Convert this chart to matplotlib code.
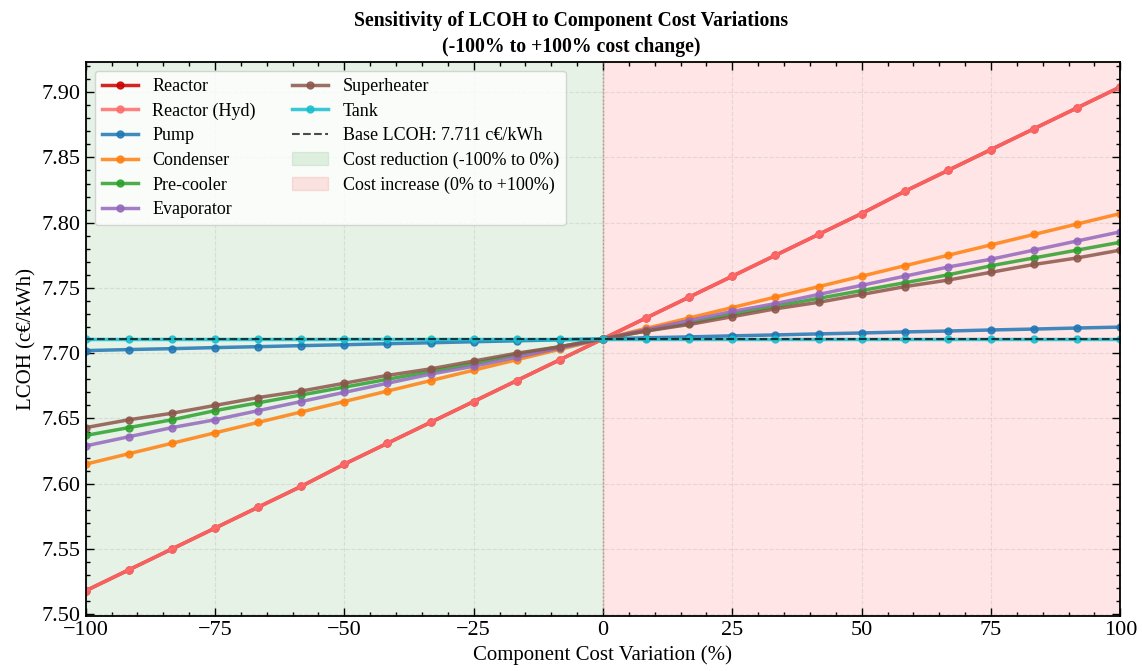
#Sensitivity of LCOH to component cost variations
import matplotlib
matplotlib.use("Agg")
import matplotlib.pyplot as plt
from matplotlib.ticker import AutoMinorLocator

plt.rcParams['font.family'] = ['Liberation Serif', 'DejaVu Serif']
plt.rcParams['mathtext.fontset'] = 'stix'

#Cost variation (%) and LCOH values (c€/kWh)
variation = [-100, -91.67, -83.33, -75, -66.67, -58.33, -50, -41.67, -33.33, -25, -16.67, -8.33,
             0, 8.33, 16.67, 25, 33.33, 41.67, 50, 58.33, 66.67, 75, 83.33, 91.67, 100]

reactor = [7.518, 7.534, 7.550, 7.566, 7.582, 7.598, 7.615, 7.631, 7.647, 7.663, 7.679, 7.695,
           7.711, 7.727, 7.743, 7.759, 7.775, 7.791, 7.807, 7.824, 7.840, 7.856, 7.872, 7.888, 7.904]
reactor_hyd = [7.518, 7.534, 7.550, 7.566, 7.582, 7.598, 7.615, 7.631, 7.647, 7.663, 7.679, 7.695,
               7.711, 7.727, 7.743, 7.759, 7.775, 7.791, 7.807, 7.824, 7.840, 7.856, 7.872, 7.888, 7.904]
pump = [7.702, 7.7028, 7.7035, 7.7043, 7.705, 7.7058, 7.7065, 7.7073, 7.708, 7.7088, 7.7095, 7.7103,
        7.711, 7.7118, 7.7125, 7.7133, 7.714, 7.7148, 7.7155, 7.7163, 7.717, 7.7178, 7.7185, 7.7193, 7.720]
condenser = [7.615, 7.623, 7.631, 7.639, 7.647, 7.655, 7.663, 7.671, 7.679, 7.687, 7.695, 7.703,
             7.711, 7.719, 7.727, 7.735, 7.743, 7.751, 7.759, 7.767, 7.775, 7.783, 7.791, 7.799, 7.807]
precooler = [7.637, 7.643, 7.649, 7.656, 7.662, 7.668, 7.674, 7.680, 7.686, 7.692, 7.699, 7.705,
             7.711, 7.717, 7.723, 7.730, 7.736, 7.742, 7.748, 7.754, 7.760, 7.767, 7.773, 7.779, 7.785]
evaporator = [7.629, 7.636, 7.643, 7.649, 7.656, 7.663, 7.670, 7.677, 7.684, 7.690, 7.697, 7.704,
              7.711, 7.718, 7.725, 7.732, 7.738, 7.745, 7.752, 7.759, 7.766, 7.772, 7.779, 7.786, 7.793]
superheater = [7.643, 7.649, 7.654, 7.660, 7.666, 7.671, 7.677, 7.683, 7.688, 7.694, 7.700, 7.705,
               7.711, 7.717, 7.722, 7.728, 7.734, 7.739, 7.745, 7.751, 7.756, 7.762, 7.768, 7.773, 7.779]
tank = [7.711] * 25

base_lcoh = 7.711

series = [("Reactor", reactor, "#cc0000"),
          ("Reactor (Hyd)", reactor_hyd, "#ff6b6b"),
          ("Pump", pump, "#1f77b4"),
          ("Condenser", condenser, "#ff7f0e"),
          ("Pre-cooler", precooler, "#2ca02c"),
          ("Evaporator", evaporator, "#9467bd"),
          ("Superheater", superheater, "#8c564b"),
          ("Tank", tank, "#17becf")]

fig, ax = plt.subplots(figsize=(11.42, 6.71), dpi=100)
fig.subplots_adjust(left=0.075, right=0.981, top=0.908, bottom=0.082)

for name, vals, col in series:
    ax.plot(variation, vals, marker='o', markersize=5, linewidth=2.5,
            color=col, alpha=0.85, label=name)

ax.axhline(base_lcoh, color='black', linestyle='--', linewidth=1.5, alpha=0.7,
           label="Base LCOH: {0:.3f} c€/kWh".format(base_lcoh))
ax.axvline(0, color='gray', linestyle=':', linewidth=1, alpha=0.6)
ax.axvspan(-100, 0, color='green', alpha=0.1, label="Cost reduction (-100% to 0%)")
ax.axvspan(0, 100, color='red', alpha=0.1, label="Cost increase (0% to +100%)")

ax.set_xlim(-100, 100)
ax.set_xlabel("Component Cost Variation (%)", fontsize=15)
ax.set_ylabel("LCOH (c€/kWh)", fontsize=15)
fig.suptitle("Sensitivity of LCOH to Component Cost Variations\n(-100% to +100% cost change)",
             x=0.5, y=0.984, fontsize=14.2, fontweight='bold', linespacing=1.45)

ax.grid(True, linestyle='--', alpha=0.3)
ax.xaxis.set_minor_locator(AutoMinorLocator())
ax.yaxis.set_minor_locator(AutoMinorLocator())
ax.tick_params(which='both', direction='in', top=True, right=True, labelsize=16)
ax.tick_params(which='major', length=6, width=1)
ax.tick_params(which='minor', length=3, width=1)
for sp in ax.spines.values():
    sp.set_linewidth(1.3)

ax.legend(loc='upper left', ncol=2, fontsize=13, framealpha=0.8, labelspacing=0.42)

plt.savefig("out.png", dpi=100)
